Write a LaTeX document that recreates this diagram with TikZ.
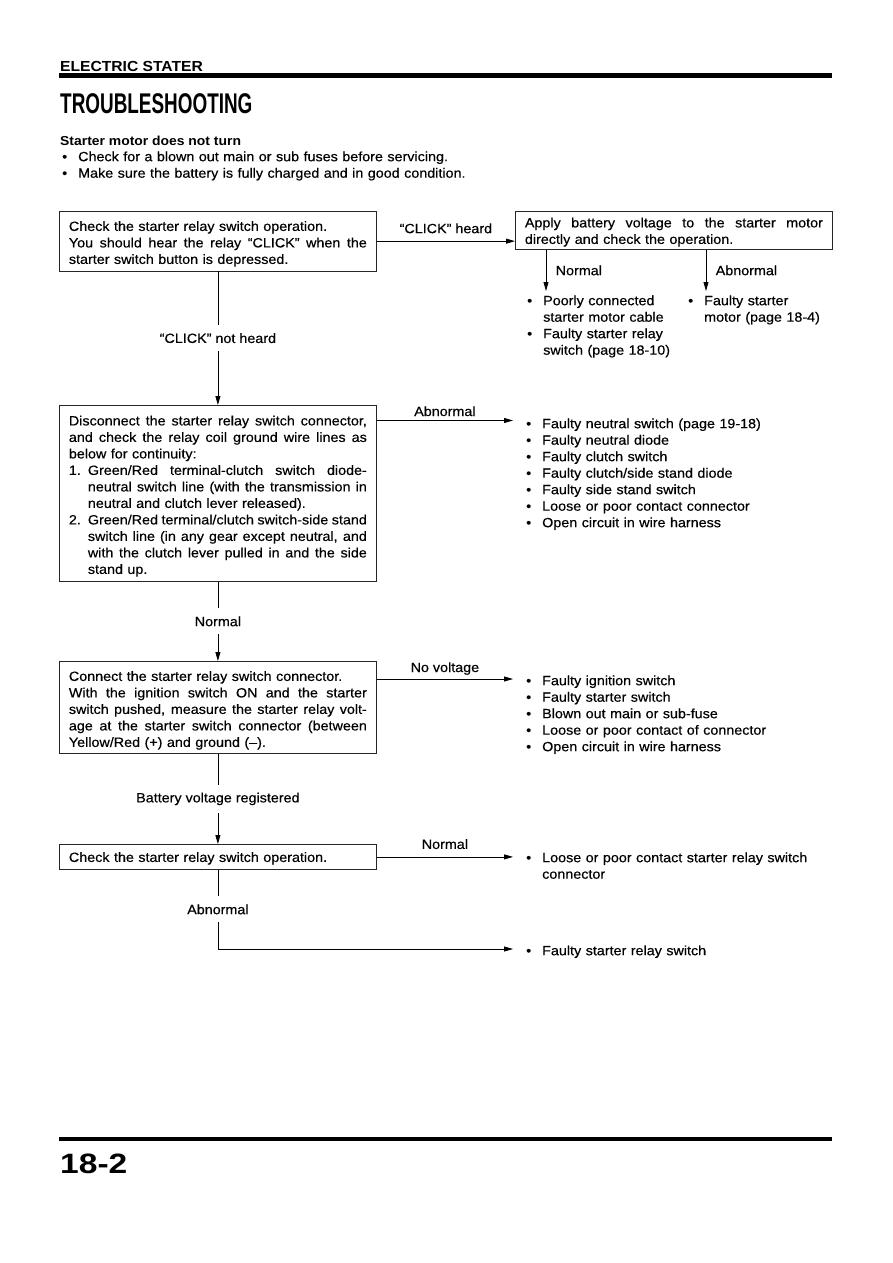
\documentclass[tikz,border=0pt]{standalone}
\usepackage{fontspec}
\setmainfont{Liberation Sans}[FakeStretch=1.07, UprightFeatures={FakeBold=0.35}]
\usepackage{graphicx}
\usetikzlibrary{arrows.meta}
\newlength\bw \setlength\bw{298pt}
\newcommand\jsp{\spaceskip=0.28em plus 1fil minus 0.08em\relax\xspaceskip=\spaceskip\relax}
\newcommand\bxS[2]{\rule[-#2]{0pt}{\dimexpr#1+#2\relax}}
\newcommand\bxJ[2][]{\noindent#1\makebox[\bw][s]{\jsp #2}\par}
\newcommand\bxL[2][]{\noindent#1\makebox[\bw][l]{#2}\par}
\newcommand\bxJI[2][]{\noindent#1\hspace*{19pt}\makebox[\dimexpr\bw-19pt\relax][s]{\jsp #2}\par}
\newcommand\bxLI[2][]{\noindent#1\hspace*{19pt}\makebox[\dimexpr\bw-19pt\relax][l]{#2}\par}
\newcommand\bxN[3][]{\noindent#1\makebox[19pt][l]{#2}\makebox[\dimexpr\bw-19pt\relax][s]{\jsp #3}\par}
\newcommand\liI[2][]{\noindent#1\makebox[16pt][l]{•}#2\par}
\newcommand\liC[1]{\noindent\hspace*{16pt}#1\par}
\tikzset{
  box/.style={draw=black!85, line width=0.8pt, inner xsep=9.5pt, inner ysep=0pt,
    text width=298pt, anchor=north west},
  lst/.style={inner sep=0pt, text width=310pt, anchor=north west},
  arr/.style={-{Triangle[length=9pt,width=5pt]}, line width=0.8pt, draw=black},
  lbl/.style={midway, fill=white, inner xsep=2pt, inner ysep=8pt},
  hlbl/.style={midway, anchor=base, inner sep=0pt},
  txt/.style={anchor=base west, inner sep=0pt}
}
\begin{document}
\begin{tikzpicture}[x=1pt, y=-1pt, font=\fontsize{13.4}{16.5}\selectfont]
\useasboundingbox (0,0) rectangle (893,1263);
\fill[white] (0,0) rectangle (893,1263);

% header
\node[txt, font=\fontsize{14.6}{16}\selectfont\bfseries] (h1) at (60,71) {ELECTRIC STATER};
\fill[black] (58.5,73.3) rectangle (832,77.6);
\node[txt] (h2) at (60,113) {\scalebox{0.62}[1]{\fontsize{28.5}{30}\selectfont\bfseries TROUBLESHOOTING}};
\node[txt, font=\fontsize{13}{16}\selectfont\bfseries] (h3) at (60,145) {Starter motor does not turn};
\node[lst, text width=450pt] (h4) at (62,151) {%
\liI[\bxS{10pt}{0pt}]{Check for a blown out main or sub fuses before servicing.}
\liI{Make sure the battery is fully charged and in good condition.}};

% boxes
\node[box] (b1) at (59,211) {%
\bxL[\bxS{19.5pt}{0pt}]{Check the starter relay switch operation.}
\bxJ{You should hear the relay “CLICK” when the}
\bxL[\bxS{0pt}{7pt}]{starter switch button is depressed.}};

\node[box] (b2) at (515,211) {%
\bxJ[\bxS{16pt}{0pt}]{Apply battery voltage to the starter motor}
\bxL[\bxS{0pt}{5.5pt}]{directly and check the operation.}};

\node[box] (b3) at (59,405) {%
\bxJ[\bxS{20pt}{0pt}]{Disconnect the starter relay switch connector,}
\bxJ{and check the relay coil ground wire lines as}
\bxL{below for continuity:}
\bxN{1.}{Green/Red terminal-clutch switch diode-}
\bxJI{neutral switch line (with the transmission in}
\bxLI{neutral and clutch lever released).}
\bxN{2.}{Green/Red terminal/clutch switch-side stand}
\bxJI{switch line (in any gear except neutral, and}
\bxJI{with the clutch lever pulled in and the side}
\bxLI[\bxS{0pt}{7.5pt}]{stand up.}};

\node[box] (b4) at (59,661) {%
\bxL[\bxS{19.5pt}{0pt}]{Connect the starter relay switch connector.}
\bxJ{With the ignition switch ON and the starter}
\bxJ{switch pushed, measure the starter relay volt-}
\bxJ{age at the starter switch connector (between}
\bxL[\bxS{0pt}{6.5pt}]{Yellow/Red (+) and ground (–).}};

\node[box] (b5) at (59,844) {%
\bxL[\bxS{17.5pt}{7.5pt}]{Check the starter relay switch operation.}};

% result lists
\node[lst] (l1) at (527,295) {%
\liI[\bxS{10pt}{0pt}]{Poorly connected}
\liC{starter motor cable}
\liI{Faulty starter relay}
\liC{switch (page 18-10)}};
\node[lst, text width=150pt] (l2) at (688,295) {%
\liI[\bxS{10pt}{0pt}]{Faulty starter}
\liC{motor (page 18-4)}};
\node[lst] (l3) at (526,418) {%
\liI[\bxS{10pt}{0pt}]{Faulty neutral switch (page 19-18)}
\liI{Faulty neutral diode}
\liI{Faulty clutch switch}
\liI{Faulty clutch/side stand diode}
\liI{Faulty side stand switch}
\liI{Loose or poor contact connector}
\liI{Open circuit in wire harness}};
\node[lst] (l4) at (526,675) {%
\liI[\bxS{10pt}{0pt}]{Faulty ignition switch}
\liI{Faulty starter switch}
\liI{Blown out main or sub-fuse}
\liI{Loose or poor contact of connector}
\liI{Open circuit in wire harness}};
\node[lst] (l5) at (526,852) {%
\liI[\bxS{10pt}{0pt}]{Loose or poor contact starter relay switch}
\liC{connector}};
\node[lst] (l6) at (526,945) {%
\liI[\bxS{10pt}{0pt}]{Faulty starter relay switch}};

% connectors
\coordinate (t1) at (546,291);
\coordinate (t2) at (706,291);
\coordinate (e3) at (513,420.5);
\coordinate (e4) at (513,679);
\coordinate (e6) at (513,949);

\draw[arr] (b1.east) -- (b1.east -| b2.west)
  node[hlbl, yshift=8pt] {“CLICK” heard};
\draw[arr] (b2.south -| t1) -- (t1)
  node[midway, anchor=west, xshift=6pt] {Normal};
\draw[arr] (b2.south -| t2) -- (t2)
  node[midway, anchor=west, xshift=6pt] {Abnormal};
\draw[arr] (b1.south) -- (b3.north) node[lbl] {“CLICK” not heard};
\draw[arr] (b3.east |- e3) -- (e3) node[hlbl, yshift=4.5pt] {Abnormal};
\draw[arr] (b3.south) -- (b4.north) node[lbl] {Normal};
\draw[arr] (b4.east |- e4) -- (e4) node[hlbl, yshift=7pt] {No voltage};
\draw[arr] (b4.south) -- (b5.north) node[lbl] {Battery voltage registered};
\draw[arr] (b5.east) -- (b5.east -| e4) node[hlbl, yshift=8pt] {Normal};
\draw[arr] (b5.south) -- (b5.south |- e6) node[lbl] {Abnormal} -- (e6);

% footer
\fill[black] (58.5,1136.8) rectangle (832,1141.2);
\node[txt] (pg) at (60,1173) {\scalebox{1.12}[1]{\fontsize{28}{30}\selectfont\bfseries 18-2}};
\end{tikzpicture}
\end{document}
